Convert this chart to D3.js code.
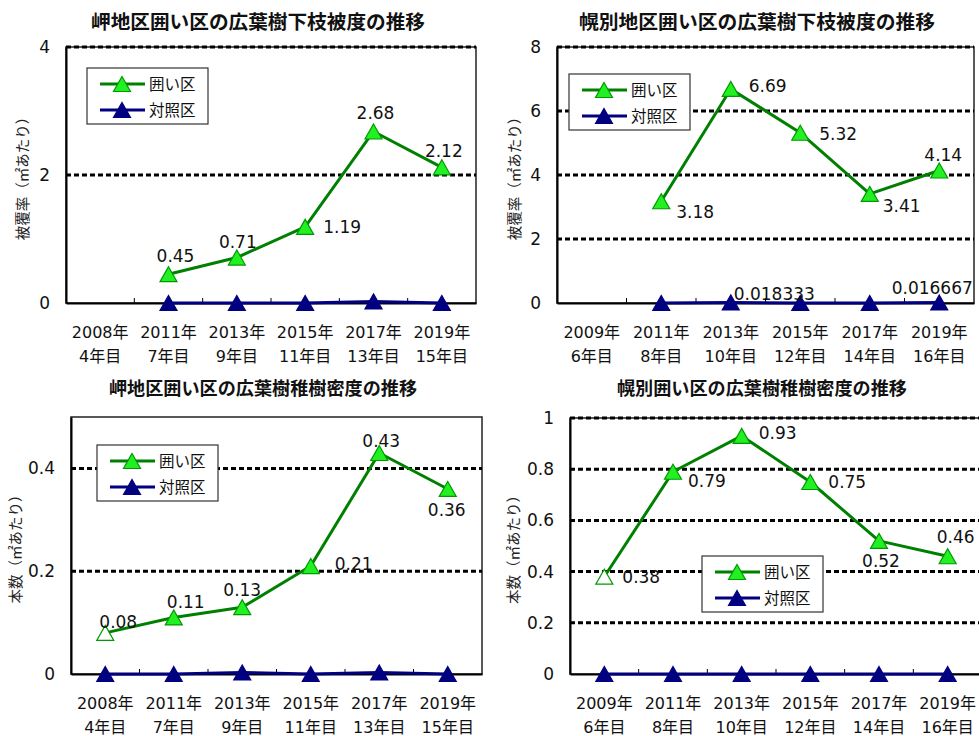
<!DOCTYPE html>
<html>
<head>
<meta charset="utf-8">
<script src="https://cdn.jsdelivr.net/npm/d3@7"></script>
<style>
  body { margin: 0; background: #fff; }
  text { font-family: "DejaVu Sans", "Noto Sans CJK JP", sans-serif; }
</style>
</head>
<body>
<svg id="chart" width="979" height="736"></svg>
<script>
// ---- categories ----
const misakiYears = ["2008年", "2011年", "2013年", "2015年", "2017年", "2019年"];
const misakiAges = ["4年目", "7年目", "9年目", "11年目", "13年目", "15年目"];
const horobetsuYears = ["2009年", "2011年", "2013年", "2015年", "2017年", "2019年"];
const horobetsuAges = ["6年目", "8年目", "10年目", "12年目", "14年目", "16年目"];
const seriesNames = ["囲い区", "対照区"];

// ---- values ----
const misakiCoverFenced = [null, 0.45, 0.71, 1.19, 2.68, 2.12];
const misakiCoverControl = [null, 0, 0, 0, 0.025, 0];
const horobetsuCoverFenced = [null, 3.18, 6.69, 5.32, 3.41, 4.14];
const horobetsuCoverControl = [null, 0, 0.018333, 0, 0, 0.016667];
const misakiDensityFenced = [0.08, 0.11, 0.13, 0.21, 0.43, 0.36];
const misakiDensityControl = [0, 0, 0.003, 0, 0.003, 0];
const horobetsuDensityFenced = [0.38, 0.79, 0.93, 0.75, 0.52, 0.46];
const horobetsuDensityControl = [0, 0, 0, 0, 0, 0];

// ---- tick labels ----
const coverTicksMisaki = [0, 2, 4];
const coverTicksHorobetsu = [0, 2, 4, 6, 8];
const densityTicksMisaki = [0, 0.2, 0.4];
const densityTicksHorobetsu = [0, 0.2, 0.4, 0.6, 0.8, 1];

// ---- titles ----
const titles = [
  "岬地区囲い区の広葉樹下枝被度の推移",
  "幌別地区囲い区の広葉樹下枝被度の推移",
  "岬地区囲い区の広葉樹稚樹密度の推移",
  "幌別囲い区の広葉樹稚樹密度の推移"
];
const axisTitles = ["被覆率（㎡あたり）", "本数（㎡あたり）"];

const GREEN = "#008000", LIME = "#22f022", LIME_EDGE = "#009900", NAVY = "#000080";

// panel layout and label placement (dx, dy from point to label centre; anchor)
const panels = [
  {
    title: titles[0], titleX: 258, titleY: 22, titleLen: 334, titleSize: 19,
    axisTitle: axisTitles[0], axisTitleX: 23,
    box: { l: 66, r: 476, t: 47, b: 303 }, domain: [0, 4], ticks: coverTicksMisaki,
    years: misakiYears, ages: misakiAges,
    fenced: misakiCoverFenced, control: misakiCoverControl, hollow: [],
    legend: { x: 87, y: 68 },
    labels: [
      { s: 0, i: 1, dx: 7, dy: -18, a: "middle" },
      { s: 0, i: 2, dx: 1, dy: -16, a: "middle" },
      { s: 0, i: 3, dx: 18, dy: 0, a: "start" },
      { s: 0, i: 4, dx: 2, dy: -19, a: "middle" },
      { s: 0, i: 5, dx: 2, dy: -16, a: "middle" }
    ]
  },
  {
    title: titles[1], titleX: 757, titleY: 22, titleLen: 356, titleSize: 19,
    axisTitle: axisTitles[0], axisTitleX: 515,
    box: { l: 557, r: 974, t: 47, b: 303 }, domain: [0, 8], ticks: coverTicksHorobetsu,
    years: horobetsuYears, ages: horobetsuAges,
    fenced: horobetsuCoverFenced, control: horobetsuCoverControl, hollow: [],
    legend: { x: 569, y: 74 },
    labels: [
      { s: 0, i: 1, dx: 15, dy: 11, a: "start" },
      { s: 0, i: 2, dx: 18, dy: -3, a: "start" },
      { s: 0, i: 3, dx: 19, dy: 1, a: "start" },
      { s: 0, i: 4, dx: 13, dy: 12, a: "start" },
      { s: 0, i: 5, dx: 4, dy: -16, a: "middle" },
      { s: 1, i: 2, dx: 3, dy: -9, a: "start" },
      { s: 1, i: 5, dx: -7, dy: -15, a: "middle" }
    ]
  },
  {
    title: titles[2], titleX: 263, titleY: 389, titleLen: 308, titleSize: 18,
    axisTitle: axisTitles[1], axisTitleX: 16,
    box: { l: 71, r: 482, t: 417, b: 674 }, domain: [0, 0.5], ticks: densityTicksMisaki,
    years: misakiYears, ages: misakiAges,
    fenced: misakiDensityFenced, control: misakiDensityControl, hollow: [0],
    legend: { x: 97, y: 445 },
    labels: [
      { s: 0, i: 0, dx: 13, dy: -11, a: "middle" },
      { s: 0, i: 1, dx: 12, dy: -16, a: "middle" },
      { s: 0, i: 2, dx: 0, dy: -17, a: "middle" },
      { s: 0, i: 3, dx: 24, dy: -2, a: "start" },
      { s: 0, i: 4, dx: 2, dy: -12, a: "middle" },
      { s: 0, i: 5, dx: -1, dy: 21, a: "middle" }
    ]
  },
  {
    title: titles[3], titleX: 762, titleY: 389, titleLen: 290, titleSize: 18,
    axisTitle: axisTitles[1], axisTitleX: 514,
    box: { l: 570, r: 982, t: 418, b: 674 }, domain: [0, 1], ticks: densityTicksHorobetsu,
    years: horobetsuYears, ages: horobetsuAges,
    fenced: horobetsuDensityFenced, control: horobetsuDensityControl, hollow: [0],
    legend: { x: 702, y: 556 },
    labels: [
      { s: 0, i: 0, dx: 18, dy: 0, a: "start" },
      { s: 0, i: 1, dx: 15, dy: 9, a: "start" },
      { s: 0, i: 2, dx: 17, dy: -3, a: "start" },
      { s: 0, i: 3, dx: 18, dy: 0, a: "start" },
      { s: 0, i: 4, dx: 2, dy: 20, a: "middle" },
      { s: 0, i: 5, dx: 8, dy: -19, a: "middle" }
    ]
  }
];

const svg = d3.select("#chart");
svg.append("rect").attr("width", 979).attr("height", 736).attr("fill", "#fff");

const tri = "M0,-7.5L8.5,7.5L-8.5,7.5Z";
// place text so that its visual centre sits at cy
const base = (cy, fs) => cy + fs * 0.36;

function drawPanel(p) {
  const g = svg.append("g");
  const B = p.box;
  const x = d3.scaleBand().domain(d3.range(p.years.length)).range([B.l, B.r]);
  const y = d3.scaleLinear().domain(p.domain).range([B.b, B.t]);
  const cx = i => x(i) + x.bandwidth() / 2;

  // title
  g.append("text").attr("x", p.titleX).attr("y", base(p.titleY, p.titleSize))
    .attr("text-anchor", "middle").attr("font-size", p.titleSize).attr("font-weight", "bold")
    .attr("fill", "#111").style("font-family", "'Noto Sans CJK JP', sans-serif")
    .attr("textLength", p.titleLen).attr("lengthAdjust", "spacingAndGlyphs")
    .text(p.title);

  // frame
  g.append("rect").attr("x", B.l).attr("y", B.t).attr("width", B.r - B.l).attr("height", B.b - B.t)
    .attr("fill", "#fff").attr("stroke", "#222").attr("stroke-width", 1.5);

  // dashed gridlines
  g.selectAll(".grid").data(p.ticks.filter(t => t > 0)).join("line")
    .attr("x1", B.l).attr("x2", B.r).attr("y1", d => y(d)).attr("y2", d => y(d))
    .attr("stroke", "#000").attr("stroke-width", 3).attr("stroke-dasharray", "5,3");

  // y axis
  const ya = d3.axisLeft(y).tickValues(p.ticks).tickSize(0).tickPadding(16).tickFormat(d => String(d));
  const yg = g.append("g").attr("transform", `translate(${B.l},0)`).call(ya);
  yg.select(".domain").attr("stroke", "#000").attr("stroke-width", 2);
  yg.selectAll("text").attr("font-size", 17).attr("fill", "#111")
    .style("font-family", "'DejaVu Sans', sans-serif");

  // x axis: inner ticks on band boundaries
  const xa = d3.axisBottom(x).tickSize(0).tickFormat(() => "");
  const xg = g.append("g").attr("transform", `translate(0,${B.b})`).call(xa);
  xg.select(".domain").attr("stroke", "#000").attr("stroke-width", 2);
  g.selectAll(".xtick").data(d3.range(1, p.years.length)).join("line")
    .attr("x1", i => x(i)).attr("x2", i => x(i)).attr("y1", B.b).attr("y2", B.b - 5)
    .attr("stroke", "#000").attr("stroke-width", 1);
  g.selectAll(".xl1").data(p.years).join("text")
    .attr("x", (d, i) => cx(i)).attr("y", base(B.b + 29, 16))
    .attr("text-anchor", "middle").attr("font-size", 16).attr("fill", "#111").text(d => d);
  g.selectAll(".xl2").data(p.ages).join("text")
    .attr("x", (d, i) => cx(i)).attr("y", base(B.b + 53, 16))
    .attr("text-anchor", "middle").attr("font-size", 16).attr("fill", "#111").text(d => d);

  // y axis title
  const my = (B.t + B.b) / 2;
  g.append("text").attr("transform", `translate(${p.axisTitleX + 5},${my}) rotate(-90)`)
    .attr("text-anchor", "middle").attr("font-size", 14.5).attr("fill", "#222")
    .style("font-family", "'Noto Sans CJK JP', sans-serif").text(p.axisTitle);

  // series
  const series = [
    { vals: p.control, color: NAVY, fill: NAVY, edge: NAVY },
    { vals: p.fenced, color: GREEN, fill: LIME, edge: LIME_EDGE }
  ];
  const line = d3.line().defined(d => d.v != null).x(d => cx(d.i)).y(d => y(d.v));
  series.forEach(s => {
    const pts = s.vals.map((v, i) => ({ v, i }));
    g.append("path").datum(pts).attr("d", line).attr("fill", "none")
      .attr("stroke", s.color).attr("stroke-width", 3).attr("stroke-linejoin", "round");
  });
  series.forEach((s, si) => {
    const pts = s.vals.map((v, i) => ({ v, i })).filter(d => d.v != null);
    g.selectAll(null).data(pts).join("path").attr("d", tri)
      .attr("transform", d => `translate(${cx(d.i)},${y(d.v)})`)
      .attr("fill", d => (si === 1 && p.hollow.includes(d.i)) ? "#fff" : s.fill)
      .attr("stroke", s.edge).attr("stroke-width", 1.2);
  });

  // value labels
  p.labels.forEach(L => {
    const v = (L.s === 0 ? p.fenced : p.control)[L.i];
    g.append("text").attr("x", cx(L.i) + L.dx).attr("y", base(y(v) + L.dy, 17))
      .attr("text-anchor", L.a).attr("font-size", 17).attr("fill", "#111")
      .style("font-family", "'DejaVu Sans', sans-serif").text(String(v));
  });

  // legend
  const lg = g.append("g").attr("transform", `translate(${p.legend.x},${p.legend.y})`);
  lg.append("rect").attr("width", 121).attr("height", 56).attr("fill", "#fff")
    .attr("stroke", "#333").attr("stroke-width", 1.2);
  const legendItems = [
    { name: seriesNames[0], color: GREEN, fill: LIME, edge: LIME_EDGE, yy: 16 },
    { name: seriesNames[1], color: NAVY, fill: NAVY, edge: NAVY, yy: 42 }
  ];
  legendItems.forEach(it => {
    lg.append("line").attr("x1", 13).attr("x2", 58).attr("y1", it.yy).attr("y2", it.yy)
      .attr("stroke", it.color).attr("stroke-width", 3);
    lg.append("path").attr("d", tri).attr("transform", `translate(35,${it.yy})`)
      .attr("fill", it.fill).attr("stroke", it.edge).attr("stroke-width", 1.2);
    lg.append("text").attr("x", 62).attr("y", base(it.yy, 15.5)).attr("font-size", 15.5)
      .attr("fill", "#111").style("font-family", "'Noto Sans CJK JP', sans-serif").text(it.name);
  });
}

panels.forEach(drawPanel);
</script>
</body>
</html>
